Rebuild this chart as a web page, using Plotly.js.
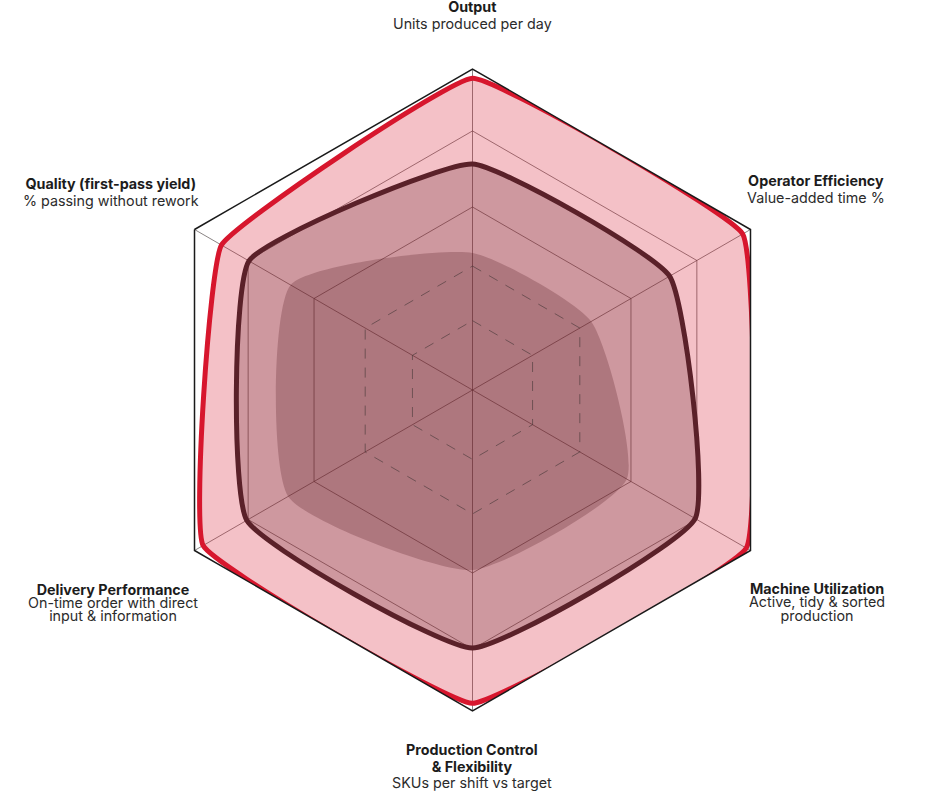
<!DOCTYPE html>
<html>
<head>
<meta charset="utf-8">
<script src="https://cdn.plot.ly/plotly-3.0.1.min.js"></script>
<style>
  html, body { margin: 0; padding: 0; background: #ffffff; }
  #chart { width: 928px; height: 792px; }
</style>
</head>
<body>
<div id="chart"></div>
<script>
// ---- data ----
const categories = [
  'Output',
  'Operator Efficiency',
  'Machine Utilization',
  'Production Control & Flexibility',
  'Delivery Performance',
  'Quality (first-pass yield)'
];
const labelTitles = [
  ['Output'],
  ['Operator Efficiency'],
  ['Machine Utilization'],
  ['Production Control', '& Flexibility'],
  ['Delivery Performance'],
  ['Quality (first-pass yield)']
];
const labelSubtitles = [
  ['Units produced per day'],
  ['Value-added time %'],
  ['Active, tidy & sorted', 'production'],
  ['SKUs per shift vs target'],
  ['On-time order with direct', 'input & information'],
  ['% passing without rework']
];
const targetValues   = [97.1, 97.2, 98.5, 97.6, 96.9, 90.3];
const currentValues  = [70.4, 70.9, 80.1, 80.4, 81.2, 80.4];
const baselineValues = [42.7, 42.7, 55.5, 56.1, 66.3, 65.4];
const solidGridLevels  = [57.0, 80.7];
const dashedGridLevels = [21.6, 38.6];

// ---- layout helpers ----
const W = 928, H = 792;
const CX = 472.5, CY = 390, R = 321;
const closeLoop = arr => arr.concat([arr[0]]);
const thetaClosed = closeLoop(categories);
const esc = s => s.replace(/&/g, '&amp;');

const traces = [];
traces.push({
  type: 'scatterpolar', name: 'Target',
  r: closeLoop(targetValues), theta: thetaClosed,
  mode: 'lines', fill: 'toself',
  fillcolor: 'rgba(215,22,45,0.265)',
  line: { color: '#d7162d', width: 5, shape: 'spline', smoothing: 0.27 },
  hoverinfo: 'skip'
});
traces.push({
  type: 'scatterpolar', name: 'Current',
  r: closeLoop(currentValues), theta: thetaClosed,
  mode: 'lines', fill: 'toself',
  fillcolor: 'rgba(90,30,38,0.25)',
  line: { color: '#5a2129', width: 5, shape: 'spline', smoothing: 0.4 },
  hoverinfo: 'skip'
});
traces.push({
  type: 'scatterpolar', name: 'Baseline',
  r: closeLoop(baselineValues), theta: thetaClosed,
  mode: 'lines', fill: 'toself',
  fillcolor: 'rgba(90,30,38,0.27)',
  line: { color: 'rgba(0,0,0,0)', width: 0, shape: 'spline', smoothing: 0.55 },
  hoverinfo: 'skip'
});
dashedGridLevels.forEach(lv => {
  traces.push({
    type: 'scatterpolar',
    r: closeLoop(categories.map(() => lv)), theta: thetaClosed,
    mode: 'lines',
    line: { color: 'rgba(60,50,50,0.55)', width: 1, dash: '10px,9px' },
    hoverinfo: 'skip'
  });
});

// label placement: centre x, first-line centre y, line pitch (px)
const labelLayout = [
  { x: 472.5, y0: 6.5,   pitch: 17.0 },
  { x: 816,   y0: 180.5, pitch: 16.5 },
  { x: 816.5, y0: 588.3, pitch: 13.3 },
  { x: 472.2, y0: 749.3, pitch: 16.7 },
  { x: 113.3, y0: 589,   pitch: 13.2 },
  { x: 110.8, y0: 184,   pitch: 17.3 }
];
const TEXT_PX = 14.3;
const annotations = [];
categories.forEach((c, i) => {
  const L = labelLayout[i];
  const lines = [];
  labelTitles[i].forEach(t => lines.push('<span style="font-size:' + TEXT_PX + 'px;font-weight:700;fill:#1c1c1c">' + esc(t) + '</span>'));
  labelSubtitles[i].forEach(t => lines.push('<span style="font-size:' + TEXT_PX + 'px;fill:#2b2b2b">' + esc(t) + '</span>'));
  const n = lines.length;
  const yc = L.y0 + (n - 1) * L.pitch / 2;
  annotations.push({
    xref: 'paper', yref: 'paper', x: L.x / W, y: 1 - yc / H,
    xanchor: 'center', yanchor: 'middle', showarrow: false, align: 'center',
    text: lines.join('<br>'),
    font: { family: 'Inter, sans-serif', size: L.pitch / 1.3, color: '#222222' }
  });
});

const layout = {
  width: W, height: H,
  margin: { l: 0, r: 0, t: 0, b: 0 },
  paper_bgcolor: '#ffffff',
  showlegend: false,
  polar: {
    domain: { x: [(CX - R) / W, (CX + R) / W], y: [1 - (CY + R) / H, 1 - (CY - R) / H] },
    gridshape: 'linear',
    bgcolor: 'rgba(0,0,0,0)',
    radialaxis: {
      range: [0, 100], tickvals: solidGridLevels, showticklabels: false, ticks: '',
      showline: false, gridcolor: 'rgba(60,50,50,0.6)', gridwidth: 1, layer: 'above traces'
    },
    angularaxis: {
      rotation: 90, direction: 'clockwise', showticklabels: false, ticks: '',
      showline: true, linecolor: '#1a1a1a', linewidth: 1.5,
      gridcolor: 'rgba(60,50,50,0.6)', gridwidth: 1, layer: 'above traces'
    }
  },
  annotations: annotations
};

Plotly.newPlot('chart', traces, layout, { displayModeBar: false, staticPlot: true });
</script>
</body>
</html>
